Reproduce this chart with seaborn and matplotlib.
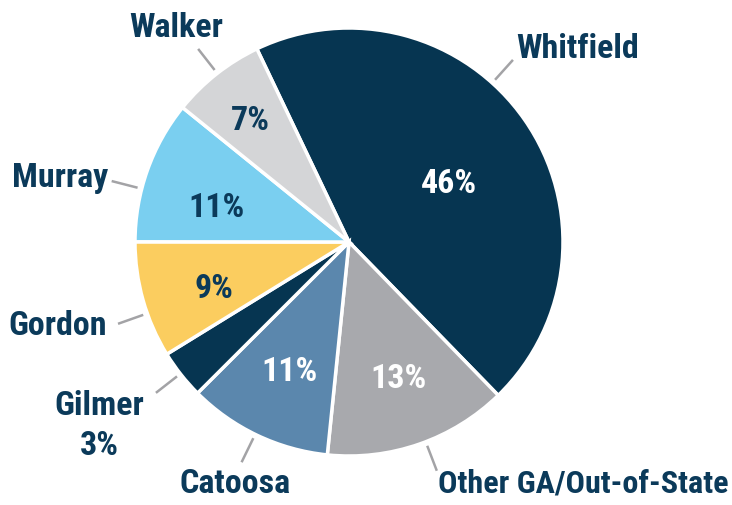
import numpy as np
import pandas as pd
import matplotlib
matplotlib.use("Agg")
import matplotlib.pyplot as plt
import seaborn as sns
from matplotlib import font_manager

# ---- data ----
categories = ["Whitfield", "Other GA/Out-of-State", "Catoosa", "Gilmer", "Gordon", "Murray", "Walker"]
shares = [44.8, 13.9, 10.9, 3.7, 8.8, 10.8, 7.1]          # slice sizes as drawn
pct_labels = ["46%", "13%", "11%", "3%", "9%", "11%", "7%"]  # printed values

# ---- styling / layout ----
slice_colors = ["#063551", "#a8a9ad", "#5b87ad", "#063551", "#fbcd5f", "#7acff0", "#d4d5d7"]
pct_text_colors = ["white", "white", "white", None, "#0b3a5a", "#0b3a5a", "#0b3a5a"]
NAVY = "#0b3a5a"
LEADER = "#a3a3a6"

W, H = 732, 506
CX, CY, R = 349, 243, 214  # pixel coords (y from top)

sns.set_style("white")
names = {f.name for f in font_manager.fontManager.ttflist}
family = "DejaVu Sans"
stretch = "normal"
for cand in ["Roboto Condensed", "Liberation Sans Narrow", "Open Sans Condensed", "DejaVu Sans Condensed"]:
    if cand in names:
        family = cand
        break
else:
    stretch = "condensed"
plt.rcParams["font.family"] = [family, "DejaVu Sans"]

fig = plt.figure(figsize=(W / 100, H / 100), dpi=100)
ax = fig.add_axes([0, 0, 1, 1])

df = pd.DataFrame({"county": categories, "share": shares})
ax.pie(df["share"], colors=slice_colors, startangle=115.5, counterclock=False,
       radius=R, center=(CX, H - CY),
       wedgeprops=dict(edgecolor="white", linewidth=2.5))
ax.set_xlim(0, W)
ax.set_ylim(0, H)
ax.set_aspect("equal")
ax.axis("off")

FS = 24.5
txt = dict(fontsize=FS, fontweight="heavy", va="baseline", fontstretch=stretch)

# percentage labels inside slices (x, baseline y in px from top)
pct_pos = [(449, 193), (398, 388), (289, 381), None, (214, 298), (216, 217), (250, 130)]
for lab, pos, col in zip(pct_labels, pct_pos, pct_text_colors):
    if pos is None:
        continue
    ax.text(pos[0], H - pos[1], lab, color=col, ha="center", **txt)

# outside labels (anchor x, baseline y, alignment)
out_pos = [(578, 58, "center"), (729, 493, "right"), (235, 493, "center"), (99, 415, "center"),
           (58, 335, "center"), (60, 187, "center"), (176, 37, "center")]
out_size = [FS, 23.2, FS, FS, FS, FS, FS]
for i, (name, pos) in enumerate(zip(categories, out_pos)):
    kw = dict(txt, fontsize=out_size[i])
    ax.text(pos[0], H - pos[1], name, color=NAVY, ha=pos[2], **kw)
    if name == "Gilmer":
        ax.text(pos[0], H - pos[1] - 40, pct_labels[i], color=NAVY, ha="center", **kw)

# leader lines (radial, angle in degrees, from 1.02R to 1.145R)
leader_angles = [48, -69, -116, -142, -160.5, 165.6, 128]
for a in leader_angles:
    t = np.deg2rad(a)
    r0, r1 = R * 1.02, R * 1.145
    ax.plot([CX + r0 * np.cos(t), CX + r1 * np.cos(t)],
            [H - CY + r0 * np.sin(t), H - CY + r1 * np.sin(t)],
            color=LEADER, lw=1.8, solid_capstyle="butt")

fig.savefig("out.png", dpi=100)
